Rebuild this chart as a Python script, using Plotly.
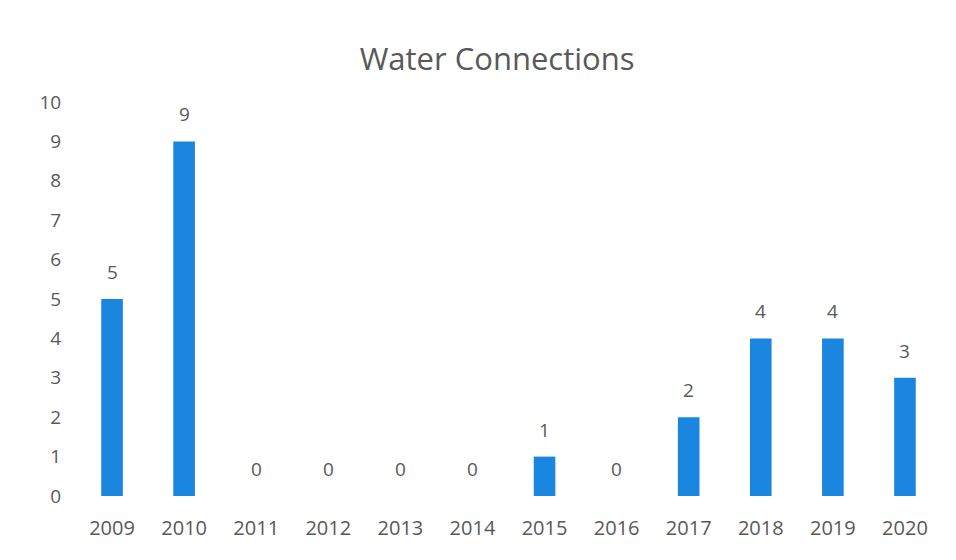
import plotly.graph_objects as go

years = ["2009", "2010", "2011", "2012", "2013", "2014", "2015", "2016", "2017", "2018", "2019", "2020"]
connections = [5, 9, 0, 0, 0, 0, 1, 0, 2, 4, 4, 3]
y_ticks = list(range(0, 11))

font_family = "Open Sans, Liberation Sans, sans-serif"
gray = "#595959"

fig = go.Figure(go.Bar(
    x=years,
    y=connections,
    marker=dict(color="#1a86e0", line=dict(width=0)),
    cliponaxis=False,
))

# category index positions for the value labels
for i, v in enumerate(connections):
    fig.add_annotation(x=i, y=v, xref="x", yref="y", text=str(v), showarrow=False,
                       yanchor="bottom", yshift=12,
                       font=dict(size=19, color=gray, family=font_family))

fig.update_layout(
    width=956, height=560,
    paper_bgcolor="white", plot_bgcolor="white",
    margin=dict(l=76, r=15, t=102, b=64),
    title=dict(text="Water Connections", x=0.52, xanchor="center", y=0.895, yanchor="middle",
               font=dict(size=31, color=gray, family=font_family)),
    bargap=0.7,
    showlegend=False,
    font=dict(family=font_family, color=gray),
)
fig.update_xaxes(type="category", categoryorder="array", categoryarray=years,
                 showgrid=False, showline=False, zeroline=False,
                 tickfont=dict(size=20, color=gray), ticks="outside", ticklen=14, tickcolor="white")
fig.update_yaxes(range=[0, 10], tickvals=y_ticks, showgrid=False, showline=False, zeroline=False,
                 tickfont=dict(size=19, color=gray), ticks="outside", ticklen=10, tickcolor="white")

fig.write_html("out.html")
